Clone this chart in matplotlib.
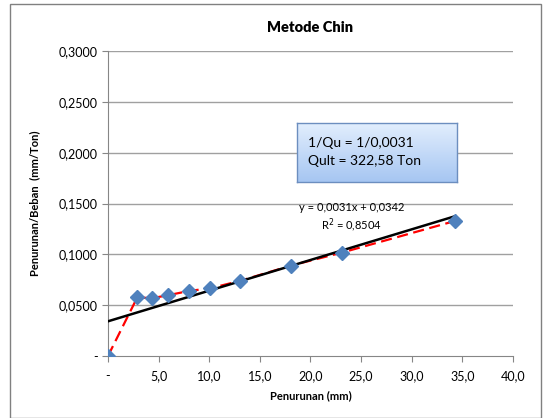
import matplotlib.pyplot as plt
import matplotlib.patches as patches
import numpy as np

# data
penurunan = [0, 2.9, 4.3, 5.9, 8.0, 10.1, 13.0, 18.1, 23.1, 34.3]
rasio = [0.0, 0.0578, 0.0568, 0.0597, 0.0640, 0.0666, 0.0738, 0.0890, 0.1017, 0.1329]

x_ticks = [0, 5, 10, 15, 20, 25, 30, 35, 40]
x_labels = ['-', '5,0', '10,0', '15,0', '20,0', '25,0', '30,0', '35,0', '40,0']
y_ticks = [0, 0.05, 0.10, 0.15, 0.20, 0.25, 0.30]
y_labels = ['-', '0,0500', '0,1000', '0,1500', '0,2000', '0,2500', '0,3000']

plt.rcParams['font.family'] = ['Lato', 'DejaVu Sans']

fig = plt.figure(figsize=(5.44, 4.18), dpi=100)
ax = fig.add_axes([0.1985, 0.1483, 0.7445, 0.7297])

# chart border
fig.patches.append(patches.Rectangle((0.018, 0.0), 0.976, 0.99, transform=fig.transFigure,
                                     fill=False, edgecolor='#808080', linewidth=1.0))

for t in y_ticks[1:]:
    ax.axhline(t, color='#a0a0a0', linewidth=1.0, zorder=0)

ax.plot(penurunan, rasio, color='red', linestyle=(0, (5, 2.5)), linewidth=1.6, zorder=2)

# linear trendline like excel
m, b = np.polyfit(penurunan, rasio, 1)
xs = np.array([0, penurunan[-1]])
ax.plot(xs, m * xs + b, color='black', linewidth=1.8, zorder=3)
ax.plot(penurunan, rasio, linestyle='none', marker='D', markersize=7,
        color='#4f81bd', zorder=4)

ax.set_xlim(0, 40)
ax.set_ylim(0, 0.3)
ax.set_xticks(x_ticks)
ax.set_xticklabels(x_labels, fontsize=9)
ax.set_yticks(y_ticks)
ax.set_yticklabels(y_labels, fontsize=9)
ax.tick_params(axis='both', direction='out', length=4, color='#868686')
ax.tick_params(axis='x', pad=6)
for s in ['top', 'right']:
    ax.spines[s].set_visible(False)
for s in ['left', 'bottom']:
    ax.spines[s].set_color('#868686')

ax.set_title('Metode Chin', fontsize=10.5, fontweight='heavy', pad=14)
ax.set_xlabel('Penurunan (mm)', fontsize=8, fontweight='bold', labelpad=6)
ax.set_ylabel('Penurunan/Beban  (mm/Ton)', fontsize=8, fontweight='bold', labelpad=13)

ax.text(24.1, 0.1457, 'y = 0,0031x + 0,0342', fontsize=8, ha='center', va='center', zorder=5)
ax.text(24.1, 0.1290, 'R$^2$ = 0,8504', fontsize=8, ha='center', va='center', zorder=5)

# gradient text box
bax = fig.add_axes([0.546, 0.5646, 0.294, 0.141])
grad = np.linspace(0, 1, 100).reshape(-1, 1)
c1 = np.array([0xe2, 0xee, 0xfd]) / 255
c2 = np.array([0xa6, 0xc6, 0xf2]) / 255
img = c1 + grad[:, :, None] * (c2 - c1)
bax.imshow(img, aspect='auto', extent=[0, 1, 0, 1], origin='upper')
bax.set_xticks([])
bax.set_yticks([])
for s in bax.spines.values():
    s.set_color('#6c8ebf')
    s.set_linewidth(1.0)
bax.text(0.07, 0.67, '1/Qu = 1/0,0031', fontsize=10, va='center', transform=bax.transAxes)
bax.text(0.07, 0.36, 'Qult = 322,58 Ton', fontsize=10, va='center', transform=bax.transAxes)

fig.savefig('out.png', dpi=100)
